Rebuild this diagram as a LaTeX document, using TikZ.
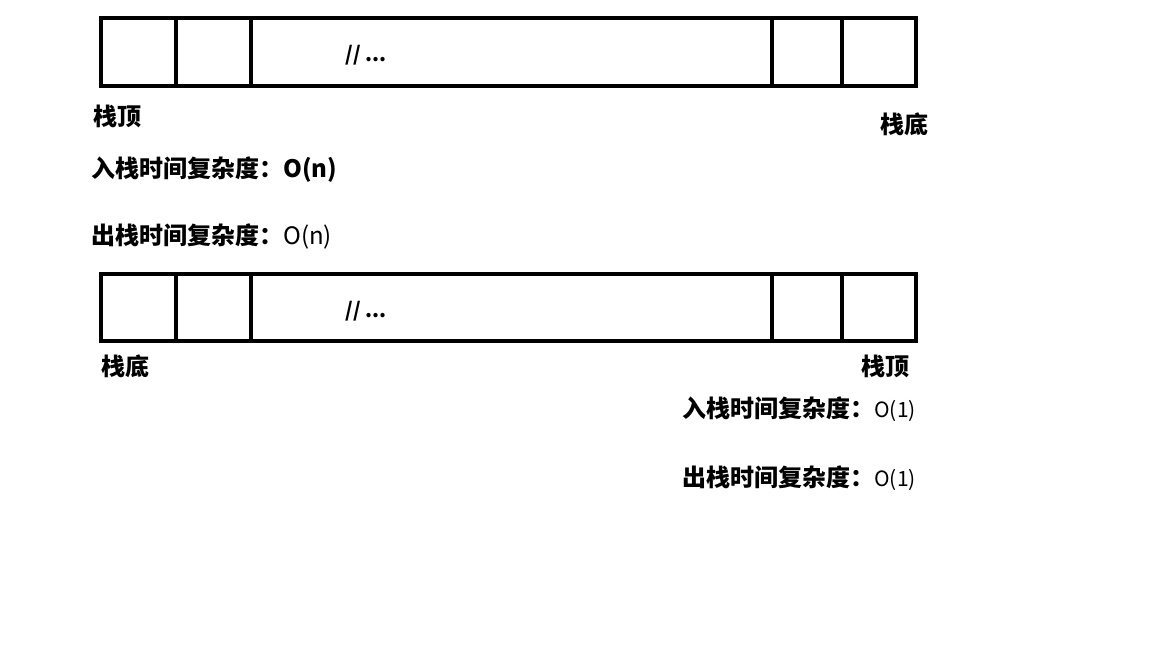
\documentclass[tikz,border=0pt]{standalone}
\usepackage{fontspec}
\setmainfont{Noto Sans CJK SC}
\usetikzlibrary{positioning}

\begin{document}
\begin{tikzpicture}[x=1pt, y=-1pt,
    cell/.style={draw, line width=4pt, inner sep=0pt, minimum height=68pt},
    lbl/.style={font=\fontsize{24}{28}\selectfont\bfseries, inner sep=0pt},
    cplx/.style={font=\fontsize{24}{28}\selectfont, inner sep=0pt}]
    \useasboundingbox (0,0) rectangle (1152,648);

    % upper stack
    \node[cell, minimum width=75pt]  (u1) at (138.5,52) {};
    \node[cell, minimum width=75pt]  (u2) at (213.5,52) {};
    \node[cell, minimum width=521pt] (u3) at (511.5,52) {};
    \node[cell, minimum width=70pt]  (u4) at (807,52) {};
    \node[cell, minimum width=74pt]  (u5) at (879,52) {};
    \node[lbl, font=\fontsize{20}{24}\selectfont\bfseries] (udots) at (366,55) {// ...};
    \node[lbl] (utop) at (117,116) {栈顶};
    \node[lbl] (ubot) at (904,124) {栈底};
    \node[lbl, anchor=west] (upush) at (91,170) {入栈时间复杂度：O(n)};
    \node[cplx, anchor=west] (upop) at (91,236) {\bfseries 出栈时间复杂度：\mdseries O(n)};

    % lower stack
    \node[cell, minimum width=75pt, minimum height=67pt]  (l1) at (138.5,307.5) {};
    \node[cell, minimum width=75pt, minimum height=67pt]  (l2) at (213.5,307.5) {};
    \node[cell, minimum width=521pt, minimum height=67pt] (l3) at (511.5,307.5) {};
    \node[cell, minimum width=70pt, minimum height=67pt]  (l4) at (807,307.5) {};
    \node[cell, minimum width=74pt, minimum height=67pt]  (l5) at (879,307.5) {};
    \node[lbl, font=\fontsize{20}{24}\selectfont\bfseries] (ldots) at (366,311) {// ...};
    \node[lbl] (lbot) at (125,366) {栈底};
    \node[lbl] (ltop) at (885,366) {栈顶};
    \node[cplx, anchor=east] (lpush) at (916,409) {\bfseries 入栈时间复杂度：\mdseries\fontsize{21}{26}\selectfont O(1)};
    \node[cplx, anchor=east] (lpop) at (916,478) {\bfseries 出栈时间复杂度：\mdseries\fontsize{21}{26}\selectfont O(1)};
\end{tikzpicture}
\end{document}
